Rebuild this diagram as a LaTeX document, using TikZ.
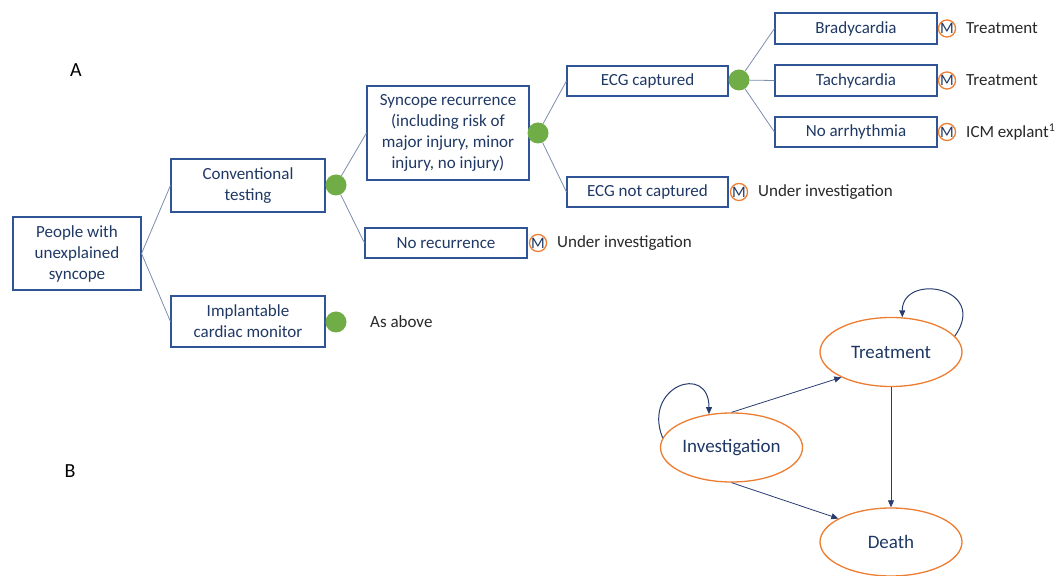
\documentclass[tikz,border=0pt]{standalone}
\usepackage{fontspec}
\setmainfont{Carlito}
\usetikzlibrary{arrows.meta,shapes.geometric}
\definecolor{boxline}{RGB}{47,85,151}
\definecolor{boxtext}{RGB}{31,56,100}
\definecolor{connline}{RGB}{125,140,175}
\definecolor{dotgreen}{RGB}{112,173,71}
\definecolor{morange}{RGB}{237,125,49}
\definecolor{sidegray}{RGB}{40,40,40}
\definecolor{arrowblue}{RGB}{40,60,110}
\begin{document}
\begin{tikzpicture}[x=1pt,y=1pt,
  box/.style={draw=boxline, line width=1.1pt, inner sep=0pt, align=center, text=boxtext, font=\fontsize{17}{21}\selectfont},
  dot/.style={circle, fill=dotgreen, minimum size=21pt, inner sep=0pt},
  mnode/.style={circle, draw=morange, line width=1.3pt, minimum size=17pt, inner sep=0pt, text=boxtext, font=\fontsize{16}{16}\selectfont},
  side/.style={anchor=west, inner sep=0pt, text=sidegray, font=\fontsize{17}{21}\selectfont},
  link/.style={draw=connline, line width=0.8pt},
  state/.style={ellipse, draw=morange, line width=1.3pt, minimum width=142pt, minimum height=69pt, inner sep=0pt, text=boxtext, font=\fontsize{19}{23}\selectfont},
  arr/.style={draw=arrowblue, line width=0.8pt, -{Triangle[length=7pt,width=6pt]}},
  panel/.style={font=\fontsize{20}{24}\selectfont, text=black, inner sep=0pt}
]
\useasboundingbox (0,0) rectangle (1059,575);

% Panel labels
\node[panel] (la) at (76,505) {A};
\node[panel] (lb) at (70,104) {B};

% Panel A: decision tree
\node[box, minimum width=128pt, minimum height=73pt] (people) at (77,321.5) {People with\\unexplained\\syncope};
\node[box, minimum width=154pt, minimum height=53pt] (conv) at (248,389.5) {Conventional\\testing};
\node[box, minimum width=154pt, minimum height=51pt] (impl) at (248,253.5) {Implantable\\cardiac monitor};
\node[dot] (dc) at (336,390) {};
\node[dot] (di) at (336,253) {};
\node[side] (asabove) at (370,253) {As above};

\node[box, minimum width=162pt, minimum height=94pt] (syn) at (448,442) {Syncope recurrence\\(including risk of\\major injury, minor\\injury, no injury)};
\node[dot] (ds) at (538,442) {};
\node[box, minimum width=162pt, minimum height=30pt] (norec) at (446,332) {No recurrence};
\node[mnode] (m1) at (538,332) {M};
\node[side] (t1) at (557,332) {Under investigation};

\node[box, minimum width=161pt, minimum height=30pt] (ecgc) at (647.5,494) {ECG captured};
\node[dot] (de) at (739,495) {};
\node[box, minimum width=161pt, minimum height=30pt] (ecgn) at (647.5,383) {ECG not captured};
\node[mnode] (m2) at (739,383) {M};
\node[side] (t2) at (758,383) {Under investigation};

\node[box, minimum width=162pt, minimum height=31pt] (brady) at (856,546.5) {Bradycardia};
\node[box, minimum width=162pt, minimum height=31pt] (tachy) at (856,494.5) {Tachycardia};
\node[box, minimum width=162pt, minimum height=30pt] (noarr) at (856,443) {No arrhythmia};
\node[mnode] (m3) at (947,546.5) {M};
\node[mnode] (m4) at (947,494.5) {M};
\node[mnode] (m5) at (947,443) {M};
\node[side] (t3) at (966,546.5) {Treatment};
\node[side] (t4) at (966,494.5) {Treatment};
\node[side] (t5) at (966,443) {ICM explant\textsuperscript{1}};

\draw[link] (people.east) -- (conv.west);
\draw[link] (people.east) -- (impl.west);
\draw[link] (dc) -- (syn.west);
\draw[link] (dc) -- (norec.west);
\draw[link] (ds) -- (ecgc.west);
\draw[link] (ds) -- (ecgn.west);
\draw[link] (de) -- (brady.west);
\draw[link] (de) -- (tachy.west);
\draw[link] (de) -- (noarr.west);

% Panel B: state diagram
\node[state] (treat) at (891,223) {Treatment};
\node[state] (inv) at (731.5,127.5) {Investigation};
\node[state, minimum height=68pt] (death) at (891,33) {Death};

\draw[arr] (inv.north) -- (treat.207);
\draw[arr] (inv.south) -- (death.156);
\draw[arr] (treat.south) -- (death.north);
\draw[arr, line width=1pt] (inv.172) .. controls +(112:55) and +(90:52) .. (inv.124);
\draw[arr, line width=1pt] (treat.14) .. controls +(55:60) and +(90:45) .. (treat.72);
\end{tikzpicture}
\end{document}
